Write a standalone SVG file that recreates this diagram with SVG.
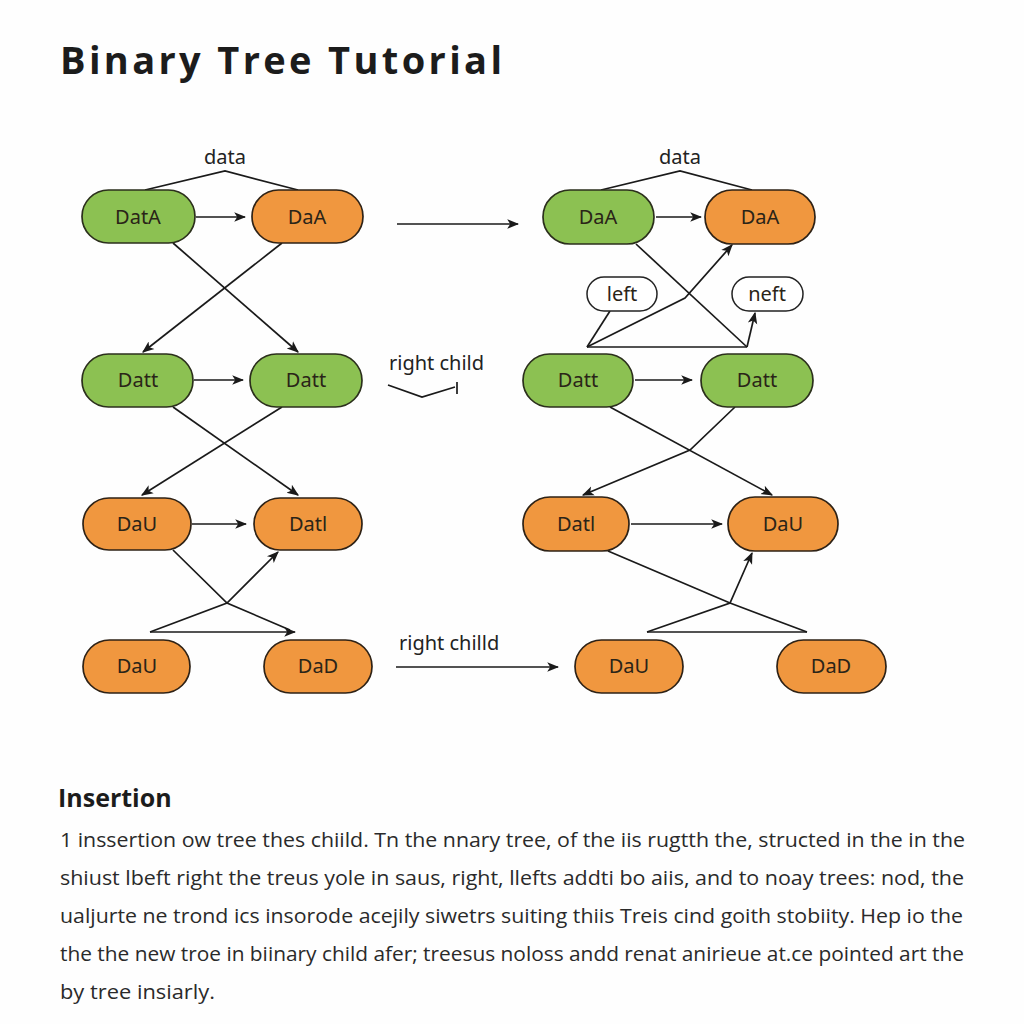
<svg xmlns="http://www.w3.org/2000/svg" width="1024" height="1024" viewBox="0 0 1024 1024">
<defs>
<marker id="ah" viewBox="0 0 10 10" refX="9" refY="5" markerWidth="12" markerHeight="12" markerUnits="userSpaceOnUse" orient="auto"><path d="M0,1 L10,5 L0,9 L2.5,5 z" fill="#1a1a1a"/></marker>
<style>
.g{fill:#8cc152;stroke:#2b2f1c;stroke-width:1.7}
.o{fill:#f0973f;stroke:#2e2216;stroke-width:1.7}
.w{fill:#fff;stroke:#222;stroke-width:1.5}
.nt{font-family:"Noto Sans","Open Sans",sans-serif;font-size:20px;fill:#2a2418;text-anchor:middle}
.lb{font-family:"Noto Sans","Open Sans",sans-serif;font-size:20px;fill:#222}
.c{fill:none;stroke:#1a1a1a;stroke-width:1.7}
.a{marker-end:url(#ah)}
.p{font-family:"Open Sans","Noto Sans",sans-serif;font-size:20px;fill:#2a2a2a}
</style>
</defs>
<rect width="1024" height="1024" fill="#fefefe"/>
<text x="60" y="74" font-family="Open Sans, Noto Sans, sans-serif" font-weight="bold" font-size="38" fill="#1c1c1c" textLength="442" lengthAdjust="spacing">Binary Tree Tutorial</text>

<g id="connectors">
<!-- left column -->
<polyline class="c" points="145,190 225,171 298,190"/>
<line class="c a" x1="196" y1="217" x2="245" y2="217"/>
<line class="c a" x1="173" y1="243" x2="298" y2="352"/>
<line class="c a" x1="282" y1="243" x2="143" y2="352"/>
<line class="c a" x1="194" y1="380" x2="243" y2="380"/>
<line class="c a" x1="173" y1="407" x2="298" y2="495"/>
<line class="c a" x1="282" y1="407" x2="142" y2="495"/>
<line class="c a" x1="192" y1="524" x2="246" y2="524"/>
<polyline class="c" points="173,550 227,603 290,630"/>
<polyline class="c a" points="150,632 227,603 278,552"/>
<line class="c a" x1="150" y1="632" x2="295" y2="632"/>
<!-- middle -->
<line class="c a" x1="397" y1="224" x2="518" y2="224"/>
<polyline class="c" points="388,385 422,397 455,387"/>
<line class="c" x1="457" y1="382" x2="457" y2="394"/>
<line class="c a" x1="396" y1="667" x2="558" y2="667"/>
<!-- right column -->
<polyline class="c" points="601,190 680,171 752,190"/>
<line class="c a" x1="656" y1="217" x2="701" y2="217"/>
<line class="c" x1="610" y1="311" x2="587" y2="347"/>
<polyline class="c a" points="587,347 685,298 732,245"/>
<line class="c" x1="587" y1="347" x2="747" y2="347"/>
<line class="c a" x1="747" y1="347" x2="755" y2="313"/>
<line class="c" x1="636" y1="244" x2="747" y2="347"/>
<line class="c a" x1="635" y1="380" x2="692" y2="380"/>
<line class="c a" x1="610" y1="407" x2="772" y2="495"/>
<polyline class="c a" points="735,407 690,450 583,495"/>
<line class="c a" x1="631" y1="524" x2="722" y2="524"/>
<polyline class="c" points="608,551 730,603 807,632"/>
<polyline class="c a" points="647,632 730,603 752,553"/>
<line class="c" x1="647" y1="632" x2="807" y2="632"/>
</g>

<text class="lb" x="225" y="164" text-anchor="middle">data</text>
<text class="lb" x="680" y="164" text-anchor="middle">data</text>
<text class="lb" x="389" y="370">right child</text>
<text class="lb" x="399" y="650">right chilld</text>

<g id="n1"><rect class="g" x="82" y="190" width="113" height="53" rx="26.5"/><text class="nt" x="138" y="224">DatA</text></g>
<g id="n2"><rect class="o" x="252" y="190" width="111" height="53" rx="26.5"/><text class="nt" x="307" y="224">DaA</text></g>
<g id="n3"><rect class="g" x="82" y="354" width="111" height="53" rx="26.5"/><text class="nt" x="138" y="387">Datt</text></g>
<g id="n4"><rect class="g" x="250" y="354" width="112" height="53" rx="26.5"/><text class="nt" x="306" y="387">Datt</text></g>
<g id="n5"><rect class="o" x="83" y="498" width="108" height="52" rx="26"/><text class="nt" x="137" y="531">DaU</text></g>
<g id="n6"><rect class="o" x="254" y="498" width="108" height="52" rx="26"/><text class="nt" x="308" y="531">Datl</text></g>
<g id="n7"><rect class="o" x="83" y="640" width="107" height="53" rx="26.5"/><text class="nt" x="137" y="673">DaU</text></g>
<g id="n8"><rect class="o" x="264" y="640" width="108" height="53" rx="26.5"/><text class="nt" x="318" y="673">DaD</text></g>

<g id="n9"><rect class="g" x="543" y="190" width="111" height="54" rx="27"/><text class="nt" x="598" y="224">DaA</text></g>
<g id="n10"><rect class="o" x="705" y="190" width="110" height="54" rx="27"/><text class="nt" x="760" y="224">DaA</text></g>
<g id="n11"><rect class="w" x="587" y="277" width="70" height="34" rx="17"/><text class="nt" x="622" y="301" fill="#222">left</text></g>
<g id="n12"><rect class="w" x="732" y="277" width="71" height="34" rx="17"/><text class="nt" x="767" y="301" fill="#222">neft</text></g>
<g id="n13"><rect class="g" x="523" y="354" width="110" height="53" rx="26.5"/><text class="nt" x="578" y="387">Datt</text></g>
<g id="n14"><rect class="g" x="701" y="354" width="112" height="53" rx="26.5"/><text class="nt" x="757" y="387">Datt</text></g>
<g id="n15"><rect class="o" x="523" y="497" width="106" height="54" rx="27"/><text class="nt" x="576" y="531">Datl</text></g>
<g id="n16"><rect class="o" x="728" y="497" width="110" height="54" rx="27"/><text class="nt" x="783" y="531">DaU</text></g>
<g id="n17"><rect class="o" x="575" y="640" width="108" height="53" rx="26.5"/><text class="nt" x="629" y="673">DaU</text></g>
<g id="n18"><rect class="o" x="777" y="640" width="109" height="53" rx="26.5"/><text class="nt" x="831" y="673">DaD</text></g>

<text x="58" y="807" font-family="Open Sans, Noto Sans, sans-serif" font-weight="bold" font-size="25" fill="#1c1c1c">Insertion</text>
<text class="p" x="60" y="847" textLength="905" lengthAdjust="spacingAndGlyphs">1 inssertion ow tree thes chiild.  Tn the nnary tree, of the iis rugtth the, structed in the in the</text>
<text class="p" x="60" y="885" textLength="904" lengthAdjust="spacingAndGlyphs">shiust lbeft right the treus yole in saus, right, llefts addti bo aiis, and to noay trees: nod, the</text>
<text class="p" x="60" y="923" textLength="903" lengthAdjust="spacingAndGlyphs">ualjurte ne trond ics insorode acejily siwetrs suiting thiis Treis cind goith stobiity. Hep io the</text>
<text class="p" x="60" y="961" textLength="904" lengthAdjust="spacingAndGlyphs">the the new troe in biinary child afer; treesus noloss andd renat anirieue at.ce pointed art the</text>
<text class="p" x="60" y="999" textLength="155" lengthAdjust="spacingAndGlyphs">by tree insiarly.</text>
</svg>
